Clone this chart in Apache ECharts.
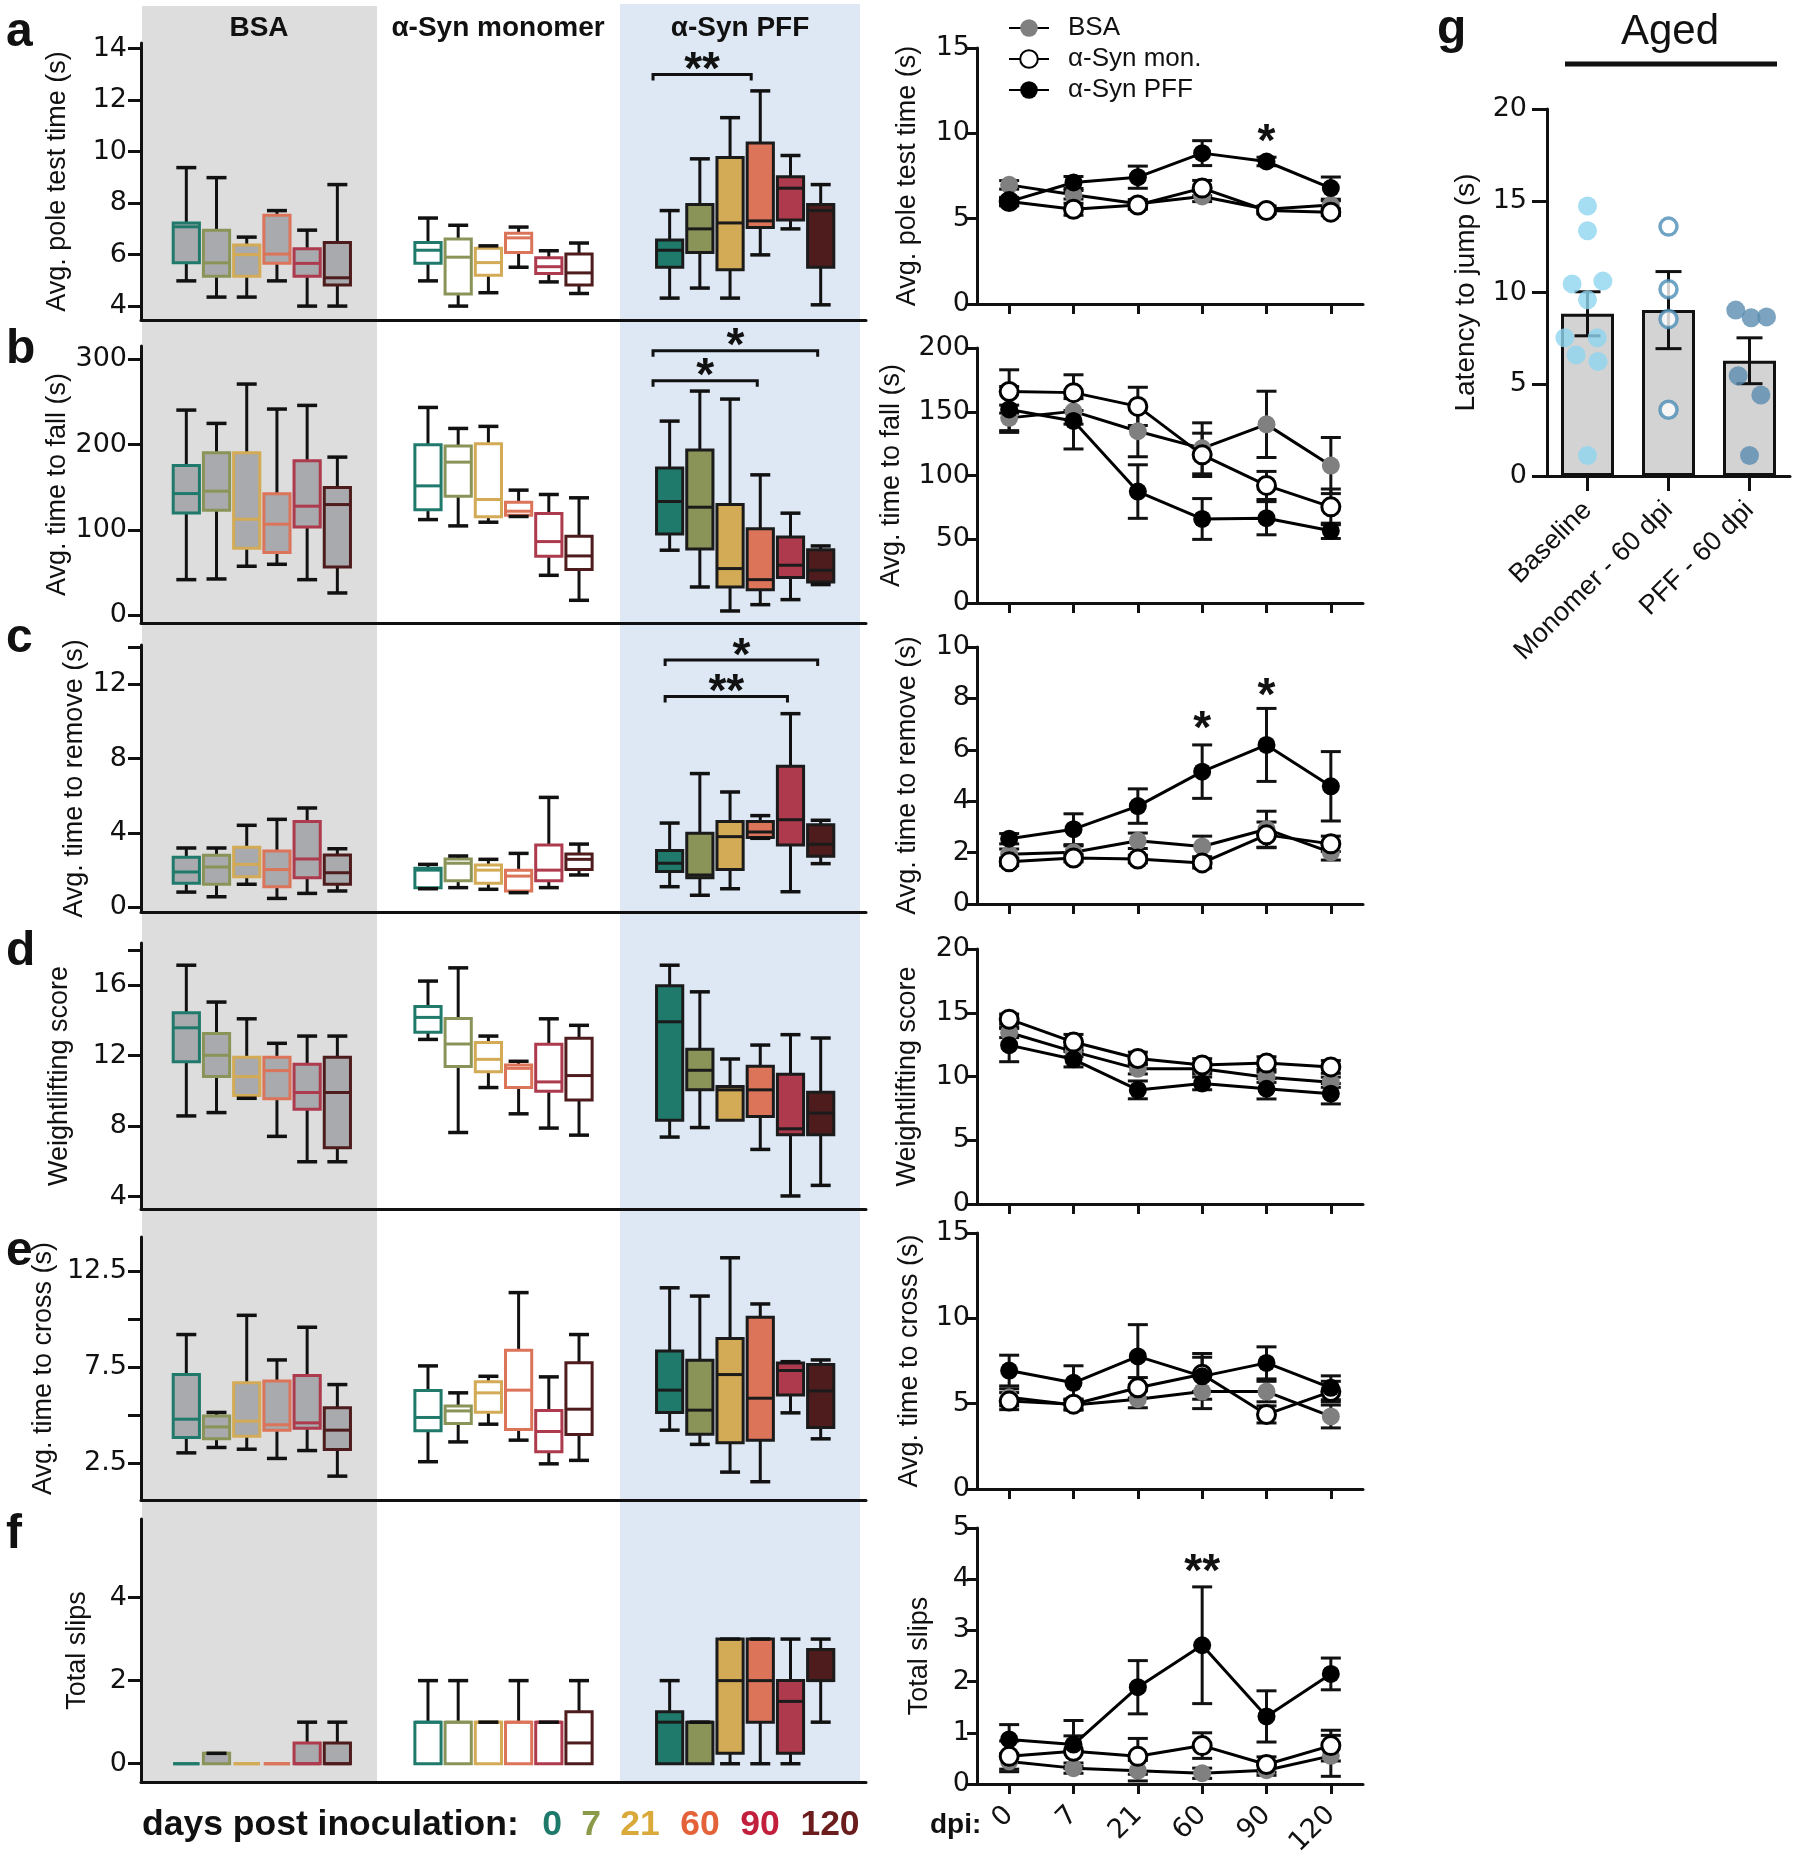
<!DOCTYPE html>
<html>
<head>
<meta charset="utf-8">
<script src="https://cdn.jsdelivr.net/npm/echarts@6/dist/echarts.min.js"></script>
<style>
  html, body { margin: 0; padding: 0; background: #fff; }
  #chart { width: 1800px; height: 1852px; }
</style>
</head>
<body>
<div id="chart"></div>
<script>
const FONT = '"Liberation Sans", Arial, Helvetica, sans-serif';
const NUM_FONT = '"DejaVu Sans", "Liberation Sans", sans-serif';

// ---- categories ----
const days = ['0', '7', '21', '60', '90', '120'];
const groupNames = ['BSA', 'α-Syn monomer', 'α-Syn PFF'];
const seriesNames = ['BSA', 'α-Syn mon.', 'α-Syn PFF'];
const agedGroups = ['Baseline', 'Monomer - 60 dpi', 'PFF - 60 dpi'];
const dayColors = ['#1f7a6c', '#8b9458', '#d3aa55', '#db7459', '#ad3a4d', '#4e1c1d'];
const dayTextColors = ['#1d7a6a', '#8a9a48', '#d9a93a', '#e4623a', '#c21f3c', '#6b1d1e'];

// ---- box plots: [min, q1, median, q3, max] per day ----
const poleBoxBSA = [[4.98,5.68,7.08,7.23,9.38],[4.35,5.16,5.68,6.95,8.99],[4.35,5.16,6.0,6.37,6.68],[4.98,5.66,6.02,7.53,7.71],[4.0,5.16,5.66,6.23,6.95],[4.0,4.82,5.10,6.47,8.72]];
const poleBoxMon = [[4.98,5.66,6.17,6.47,7.42],[4.0,4.47,5.9,6.61,7.14],[4.52,5.2,5.69,6.25,6.34],[5.51,6.08,6.65,6.83,7.07],[4.94,5.27,5.53,5.88,6.15],[4.49,4.82,5.29,6.02,6.45]];
const poleBoxPFF = [[4.31,5.51,6.17,6.57,7.71],[4.7,6.08,7.0,7.95,9.72],[4.31,5.41,7.23,9.77,11.32],[5.99,7.05,7.31,10.34,12.36],[7.0,7.34,8.58,9.02,9.85],[4.05,5.51,7.71,7.95,8.72]];

const fallBoxBSA = [[41.8,120,142.7,175.6,240.5],[42.6,123.2,145.5,190.5,224.9],[57.5,78.6,112.6,190.5,271],[59.8,73.5,106.8,142.4,241.7],[41.8,103.6,127.9,181,246],[26.2,56.7,129.8,149.8,185.4]];
const fallBoxMon = [[112.2,123.6,151.7,199.8,243.6],[104.8,139.6,179.5,198.3,219],[109.1,115.4,135.7,201,221.4],[115.8,117.3,122,132.6,146.7],[46.9,69.2,86.4,119.3,141.6],[17.6,53.6,69.6,92.7,137.7]];
const fallBoxPFF = [[76.3,95.4,133.4,172.5,227.6],[33.2,77.8,126.7,193.6,262.8],[5.1,33.2,54.8,129.8,253.4],[12.5,30.1,41.8,101.3,164.6],[18.4,44.2,58.7,91.9,119.7],[36,39.1,52.8,76.7,81.3]];

const removeBoxBSA = [[0.82,1.29,1.9,2.69,3.19],[0.57,1.24,2.17,2.8,3.19],[1.24,1.65,2.31,3.23,4.41],[0.48,1.11,2.03,3.03,4.73],[0.75,1.59,2.6,4.62,5.34],[0.88,1.24,1.86,2.81,3.15]];
const removeBoxMon = [[1.0,1.05,2.0,2.1,2.31],[1.06,1.43,2.37,2.6,2.76],[0.97,1.29,2.0,2.28,2.58],[0.79,0.88,1.68,2.0,2.9],[1.06,1.43,2.0,3.35,5.91],[1.74,2.04,2.58,2.87,3.4]];
const removeBoxPFF = [[1.11,1.92,2.37,3.05,4.53],[0.65,1.59,1.74,3.98,7.19],[1.0,2.04,3.8,4.62,6.2],[3.71,3.75,4.05,4.62,4.93],[0.84,3.35,4.71,7.58,10.41],[2.35,2.74,3.39,4.44,4.68]];

const weightBoxBSA = [[8.58,11.66,13.58,14.43,17.13],[8.77,10.81,12.02,13.26,15.04],[9.58,9.74,10.81,11.91,14.09],[7.42,9.55,11.15,11.91,12.7],[5.98,8.96,9.91,11.51,13.11],[5.98,6.77,9.91,11.91,13.11]];
const weightBoxMon = [[12.92,13.32,14.17,14.79,16.23],[7.64,11.38,12.66,14.11,16.98],[10.19,11.09,11.79,12.75,13.11],[8.7,10.19,11.28,11.47,11.68],[7.89,9.98,10.51,12.64,14.09],[7.49,9.49,10.87,12.98,13.72]];
const weightBoxPFF = [[7.38,8.34,13.92,15.96,17.13],[7.92,10.06,11.17,12.36,15.62],[8.34,8.34,10.06,10.25,11.81],[6.68,8.55,10.06,11.4,12.6],[4.04,7.51,7.85,10.94,13.19],[4.64,7.51,8.74,9.92,13.0]];

const crossBoxBSA = [[3.05,3.85,4.8,7.12,9.2],[3.33,3.78,4.4,4.96,5.15],[3.24,3.92,4.7,6.69,10.2],[2.76,4.23,4.51,6.79,7.88],[3.17,4.33,4.61,7.07,9.58],[1.84,3.23,4.23,5.39,6.6]];
const crossBoxMon = [[2.59,4.2,4.89,6.29,7.57],[3.62,4.58,5.23,5.48,6.17],[4.54,5.16,6.17,6.74,7.03],[3.71,4.26,6.31,8.38,11.38],[2.48,3.11,4.16,5.25,7.0],[2.66,4.0,5.32,7.74,9.2]];
const crossBoxPFF = [[4.23,5.15,6.31,8.35,11.63],[3.49,4.02,5.27,7.86,11.2],[2.05,3.57,7.12,8.99,13.19],[1.55,3.71,5.89,10.1,10.79],[5.13,6.06,7.33,7.72,7.79],[3.78,4.37,6.27,7.64,7.88]];

const slipBoxBSA = [[0,0,0,0,0],[0,0,0.25,0.25,0.25],[0,0,0,0,0],[0,0,0,0,0],[0,0,0,0.5,1],[0,0,0,0.5,1]];
const slipBoxMon = [[0,0,1,1,2],[0,0,1,1,2],[0,0,1,1,1],[0,0,1,1,2],[0,0,1,1,1],[0,0,0.5,1.25,2]];
const slipBoxPFF = [[0,0,1,1.25,2],[0,0,1,1,1],[0,0.25,2,3,3],[0,1,2,3,3],[0,0.25,1.5,2,3],[1,2,2,2.75,3]];

// significance brackets: [from slot, to slot, y, label]
const poleBrackets = [[16.45, 19.7, 13.0, '**']];
const fallBrackets = [[16.45, 21.9, 310, '*'], [16.45, 19.9, 275, '*']];
const removeBrackets = [[16.85, 21.9, 13.3, '*'], [16.85, 20.9, 11.33, '**']];

// ---- time courses: [mean, sem] per day ----
const poleLineBSA = [[6.98,0.25],[6.4,0.25],[5.87,0.25],[6.3,0.3],[5.55,0.2],[5.8,0.25]];
const poleLineMon = [[6.0,0.2],[5.55,0.35],[5.8,0.25],[6.79,0.45],[5.48,0.2],[5.38,0.2]];
const poleLinePFF = [[6.0,0.25],[7.12,0.35],[7.43,0.65],[8.84,0.73],[8.35,0.25],[6.79,0.65]];

const fallLineBSA = [[145.2,10],[150.3,10],[134.7,20],[121.3,20],[140.1,26],[107.8,22]];
const fallLineMon = [[165.9,17],[165,14],[154.2,15],[116.2,17],[92.2,11],[75.4,14]];
const fallLinePFF = [[151.8,18],[142.8,22],[87.4,21],[65.9,16],[66.5,13],[56.6,6]];

const removeLineBSA = [[1.94,0.2],[2.01,0.25],[2.46,0.3],[2.24,0.4],[2.91,0.7],[2.01,0.3]];
const removeLineMon = [[1.64,0.15],[1.79,0.15],[1.75,0.15],[1.6,0.2],[2.69,0.5],[2.34,0.3]];
const removeLinePFF = [[2.54,0.2],[2.91,0.6],[3.81,0.67],[5.15,1.04],[6.19,1.42],[4.58,1.35]];

const weightLineBSA = [[13.45,0.4],[11.95,0.4],[10.6,0.4],[10.6,0.4],[9.94,0.4],[9.55,0.4]];
const weightLineMon = [[14.5,0.4],[12.7,0.6],[11.41,0.5],[10.9,0.5],[11.05,0.5],[10.75,0.5]];
const weightLinePFF = [[12.46,1.3],[11.35,0.6],[8.95,0.7],[9.46,0.5],[9.04,0.8],[8.65,0.8]];

const crossLineBSA = [[5.37,0.5],[4.92,0.3],[5.26,0.5],[5.71,1.0],[5.71,0.6],[4.25,0.67]];
const crossLineMon = [[5.15,0.5],[4.97,0.3],[5.93,0.6],[6.72,1.0],[4.37,0.5],[5.71,0.6]];
const crossLinePFF = [[6.94,0.9],[6.22,1.0],[7.77,1.86],[6.6,1.34],[7.39,0.94],[5.93,0.7]];

const slipLineBSA = [[0.44,0.15],[0.31,0.1],[0.26,0.2],[0.21,0.1],[0.27,0.1],[0.55,0.4]];
const slipLineMon = [[0.54,0.3],[0.64,0.3],[0.54,0.35],[0.75,0.25],[0.38,0.15],[0.75,0.3]];
const slipLinePFF = [[0.87,0.29],[0.77,0.47],[1.89,0.52],[2.71,1.14],[1.32,0.5],[2.15,0.31]];

// stars over time courses: [day index, y, label]
const poleStars = [[4, 10.0, '*']];
const removeStars = [[3, 7.16, '*'], [4, 8.43, '*']];
const slipStars = [[3, 4.32, '**']];

// ---- tick labels of box plot axes ----
const poleTicks = [4, 6, 8, 10, 12, 14];
const fallTicks = [0, 100, 200, 300];
const removeTicks = [0, 4, 8, 12, 14], removeLabels = [0, 4, 8, 12];
const weightTicks = [4, 8, 12, 16, 18], weightLabels = [4, 8, 12, 16];
const crossTicks = [2.5, 5, 7.5, 10, 12.5], crossLabels = [2.5, 7.5, 12.5];
const slipTicks = [0, 2, 4];

// ---- panel g: aged mice ----
const agedMean = [8.84, 9.04, 6.28];
const agedSem = [1.2, 2.1, 1.25];
// [horizontal jitter, value]
const agedBaselinePts = [[0,14.71],[0,13.37],[-0.19,10.47],[0.19,10.62],[0,9.6],[-0.28,7.53],[0.12,7.53],[-0.14,6.6],[0.13,6.24],[0,1.12]];
const agedMonomerPts = [[0,13.59],[0,10.18],[0,8.55],[0,3.61]];
const agedPffPts = [[-0.17,9.04],[0.02,8.62],[0.21,8.67],[-0.14,5.46],[0.14,4.41],[0,1.12]];

// 24 slots on the box axis: blank, 6 BSA, 2 blank, 6 monomer, 2 blank, 6 PFF, blank
const slots = Array.from({ length: 24 }, (_, i) => 's' + i);

const panels = [
  { letter: 'a', letterY: 33, name: 'Avg. pole test time (s)',
    boxes: [poleBoxBSA, poleBoxMon, poleBoxPFF], brackets: poleBrackets,
    boxTop: 43, boxBottom: 320, boxMin: 3.46, boxMax: 14.22, ticks: poleTicks, labels: poleTicks, boxGap: 70,
    lines: [poleLineBSA, poleLineMon, poleLinePFF], stars: poleStars,
    lineTop: 48, lineBottom: 304, lineMax: 15, lineStep: 5, lineGap: 56 },
  { letter: 'b', letterY: 350, name: 'Avg. time to fall (s)',
    boxes: [fallBoxBSA, fallBoxMon, fallBoxPFF], brackets: fallBrackets,
    boxTop: 346, boxBottom: 623, boxMin: -9, boxMax: 315.6, ticks: fallTicks, labels: fallTicks, boxGap: 70,
    lines: [fallLineBSA, fallLineMon, fallLinePFF], stars: [],
    lineTop: 348, lineBottom: 603, lineMax: 200, lineStep: 50, lineGap: 72 },
  { letter: 'c', letterY: 639, name: 'Avg. time to remove (s)',
    boxes: [removeBoxBSA, removeBoxMon, removeBoxPFF], brackets: removeBrackets,
    boxTop: 645, boxBottom: 912, boxMin: -0.25, boxMax: 14.1, ticks: removeTicks, labels: removeLabels, boxGap: 53,
    lines: [removeLineBSA, removeLineMon, removeLinePFF], stars: removeStars,
    lineTop: 647, lineBottom: 904, lineMax: 10, lineStep: 2, lineGap: 56 },
  { letter: 'd', letterY: 952, name: 'Weightlifting score',
    boxes: [weightBoxBSA, weightBoxMon, weightBoxPFF], brackets: [],
    boxTop: 943, boxBottom: 1209, boxMin: 3.3, boxMax: 18.39, ticks: weightTicks, labels: weightLabels, boxGap: 68,
    lines: [weightLineBSA, weightLineMon, weightLinePFF], stars: [],
    lineTop: 949, lineBottom: 1204, lineMax: 20, lineStep: 5, lineGap: 56 },
  { letter: 'e', letterY: 1252, name: 'Avg. time to cross (s)',
    boxes: [crossBoxBSA, crossBoxMon, crossBoxPFF], brackets: [],
    boxTop: 1237, boxBottom: 1500, boxMin: 0.6, boxMax: 14.27, ticks: crossTicks, labels: crossLabels, boxGap: 84,
    lines: [crossLineBSA, crossLineMon, crossLinePFF], stars: [],
    lineTop: 1233, lineBottom: 1489, lineMax: 15, lineStep: 5, lineGap: 54 },
  { letter: 'f', letterY: 1535, name: 'Total slips',
    boxes: [slipBoxBSA, slipBoxMon, slipBoxPFF], brackets: [],
    boxTop: 1519, boxBottom: 1782, boxMin: -0.44, boxMax: 5.89, ticks: slipTicks, labels: slipTicks, boxGap: 50,
    lines: [slipLineBSA, slipLineMon, slipLinePFF], stars: slipStars,
    lineTop: 1528, lineBottom: 1784, lineMax: 5, lineStep: 1, lineGap: 44 }
];

const INK = '#111';
const axisLine = { show: true, onZero: false, lineStyle: { color: INK, width: 3 } };
const nameStyle = { fontSize: 27, color: INK, fontFamily: FONT };
const tickLabel = { fontSize: 27, color: INK, fontFamily: NUM_FONT };

function seg(x1, y1, x2, y2, color, w) {
  return { type: 'line', shape: { x1, y1, x2, y2 }, style: { stroke: color, lineWidth: w } };
}

function renderBox(params, api) {
  const slot = api.value(0), day = api.value(6), g = api.value(7);
  const v = [1, 2, 3, 4, 5].map(k => api.value(k));
  const p = v.map(val => api.coord([slot, val]));
  const x = p[0][0], band = api.size([1, 0])[0];
  const w = band - 4, cap = 10;
  const col = dayColors[day];
  const fill = g === 0 ? '#a9aaad' : g === 1 ? '#ffffff' : col;
  const edge = g === 2 ? '#1b1b1b' : col;
  const kids = [];
  if (v[4] > v[3]) kids.push(seg(x, p[4][1], x, p[3][1], INK, 3));
  if (v[0] < v[1]) kids.push(seg(x, p[1][1], x, p[0][1], INK, 3));
  kids.push({ type: 'rect', shape: { x: x - w / 2, y: p[3][1], width: w, height: p[1][1] - p[3][1] },
    style: { fill, stroke: edge, lineWidth: 3 } });
  kids.push(seg(x - w / 2, p[2][1], x + w / 2, p[2][1], edge, 3));
  if (v[4] > v[0]) kids.push(seg(x - cap, p[4][1], x + cap, p[4][1], INK, 3.5));
  if (v[0] < v[1]) kids.push(seg(x - cap, p[0][1], x + cap, p[0][1], INK, 3.5));
  return { type: 'group', children: kids };
}

function bracketRenderer(list) {
  return function (params, api) {
    const b = list[params.dataIndex];
    const band = api.size([1, 0])[0];
    const at = s => { const k = Math.round(s); const pt = api.coord([k, b[2]]); return [pt[0] + (s - k) * band, pt[1]]; };
    const p1 = at(b[0]), p2 = at(b[1]);
    return { type: 'group', children: [
      { type: 'polyline', shape: { points: [[p1[0], p1[1] + 6], [p1[0], p1[1]], [p2[0], p2[1]], [p2[0], p2[1] + 6]] },
        style: { stroke: INK, lineWidth: 3, fill: 'none' } },
      { type: 'text', x: (p1[0] + p2[0]) / 2, y: p1[1] - 3,
        style: { text: b[3], fontSize: 46, fontWeight: 'bold', fontFamily: FONT, fill: INK, align: 'center', verticalAlign: 'middle' } }
    ] };
  };
}

function starRenderer(list) {
  return function (params, api) {
    const s = list[params.dataIndex];
    const pt = api.coord([s[0], s[1]]);
    return { type: 'text', x: pt[0], y: pt[1] + 10,
      style: { text: s[2], fontSize: 46, fontWeight: 'bold', fontFamily: FONT, fill: INK, align: 'center', verticalAlign: 'middle' } };
  };
}

function errRenderer(half) {
  return function (params, api) {
    const i = api.value(0), m = api.value(1), s = api.value(2);
    const hi = api.coord([i, m + s]), lo = api.coord([i, m - s]);
    return { type: 'group', children: [
      seg(hi[0], hi[1], lo[0], lo[1], INK, 3),
      seg(hi[0] - half, hi[1], hi[0] + half, hi[1], INK, 3),
      seg(lo[0] - half, lo[1], lo[0] + half, lo[1], INK, 3)
    ] };
  };
}

const markerStyles = [
  { color: '#808080', borderColor: '#808080', borderWidth: 0 },
  { color: '#ffffff', borderColor: '#000000', borderWidth: 3 },
  { color: '#000000', borderColor: '#000000', borderWidth: 0 }
];

const grid = [], xAxis = [], yAxis = [], series = [];

panels.forEach(p => {
  // box plots (left column)
  let xi = xAxis.length, yi = yAxis.length;
  grid.push({ left: 141, width: 725, top: p.boxTop, height: p.boxBottom - p.boxTop, outerBoundsMode: 'none' });
  xAxis.push({ gridIndex: grid.length - 1, type: 'category', data: slots, boundaryGap: true, axisLine,
    axisTick: { show: false }, axisLabel: { show: false }, splitLine: { show: false } });
  yAxis.push({ gridIndex: grid.length - 1, type: 'value', min: p.boxMin, max: p.boxMax,
    name: p.name, nameLocation: 'middle', nameGap: p.boxGap, nameMoveOverlap: false, nameTextStyle: nameStyle,
    axisLine, splitLine: { show: false },
    axisTick: { show: true, length: 13, lineStyle: { color: INK, width: 3 }, customValues: p.ticks },
    axisLabel: Object.assign({ show: true, customValues: p.labels, margin: 14 }, tickLabel) });
  const boxData = [];
  p.boxes.forEach((grp, g) => grp.forEach((b, d) => boxData.push([1 + g * 8 + d, b[0], b[1], b[2], b[3], b[4], d, g])));
  series.push({ type: 'custom', xAxisIndex: xi, yAxisIndex: yi, data: boxData, encode: { x: 0, y: [1, 5] },
    renderItem: renderBox, clip: false, silent: true, z: 3 });
  if (p.brackets.length) {
    series.push({ type: 'custom', xAxisIndex: xi, yAxisIndex: yi, data: p.brackets.map(b => [Math.round(b[0]), b[2]]),
      renderItem: bracketRenderer(p.brackets), clip: false, silent: true, z: 4 });
  }

  // time courses (middle column)
  xi = xAxis.length; yi = yAxis.length;
  grid.push({ left: 977, width: 386, top: p.lineTop, height: p.lineBottom - p.lineTop, outerBoundsMode: 'none' });
  xAxis.push({ gridIndex: grid.length - 1, type: 'category', data: days, boundaryGap: true, axisLine,
    axisTick: { show: true, alignWithLabel: true, length: 10, lineStyle: { color: INK, width: 3 } },
    axisLabel: p.letter === 'f'
      ? Object.assign({ show: true, rotate: 45, margin: 27 }, tickLabel)
      : { show: false },
    splitLine: { show: false } });
  yAxis.push({ gridIndex: grid.length - 1, type: 'value', min: 0, max: p.lineMax, interval: p.lineStep,
    name: p.name, nameLocation: 'middle', nameGap: p.lineGap, nameMoveOverlap: false, nameTextStyle: nameStyle,
    axisLine, splitLine: { show: false },
    axisTick: { show: true, length: 10, lineStyle: { color: INK, width: 3 } },
    axisLabel: Object.assign({ margin: 7 }, tickLabel) });
  p.lines.forEach((vals, g) => {
    series.push({ type: 'custom', xAxisIndex: xi, yAxisIndex: yi, data: vals.map((v, i) => [i, v[0], v[1]]),
      renderItem: errRenderer(10), silent: true, z: 2 });
  });
  p.lines.forEach((vals, g) => {
    series.push({ type: 'line', name: seriesNames[g], xAxisIndex: xi, yAxisIndex: yi,
      data: vals.map(v => v[0]), symbol: 'circle', symbolSize: 18, showAllSymbol: true,
      lineStyle: { color: '#000', width: 3 }, itemStyle: markerStyles[g], silent: true, z: 3 + g });
  });
  if (p.stars.length) {
    series.push({ type: 'custom', xAxisIndex: xi, yAxisIndex: yi, data: p.stars.map(s => [s[0], s[1]]),
      renderItem: starRenderer(p.stars), clip: false, silent: true, z: 6 });
  }
});

// panel g
const gx = xAxis.length, gy = yAxis.length;
grid.push({ left: 1547, width: 243, top: 109, height: 367, outerBoundsMode: 'none' });
const gGrid = grid.length - 1;
xAxis.push({ gridIndex: gGrid, type: 'category', data: agedGroups, boundaryGap: true, axisLine,
  axisTick: { show: true, alignWithLabel: true, length: 15, lineStyle: { color: INK, width: 3 } },
  axisLabel: { rotate: 45, margin: 30, fontSize: 27, color: INK, fontFamily: FONT } });
xAxis.push({ gridIndex: gGrid, type: 'value', min: -0.5, max: 2.5, show: false });
yAxis.push({ gridIndex: gGrid, type: 'value', min: 0, max: 20, interval: 5,
  name: 'Latency to jump (s)', nameLocation: 'middle', nameGap: 67, nameMoveOverlap: false,
  nameTextStyle: { fontSize: 28, color: INK, fontFamily: FONT },
  axisLine, splitLine: { show: false },
  axisTick: { show: true, length: 15, lineStyle: { color: INK, width: 3 } },
  axisLabel: Object.assign({ margin: 20 }, tickLabel) });
series.push({ type: 'bar', xAxisIndex: gx, yAxisIndex: gy, data: agedMean, barWidth: 53, silent: true, z: 2,
  itemStyle: { color: '#d3d3d3', borderColor: INK, borderWidth: 3 } });
series.push({ type: 'custom', xAxisIndex: gx, yAxisIndex: gy, data: agedMean.map((m, i) => [i, m, agedSem[i]]),
  renderItem: errRenderer(13), silent: true, z: 3 });
const agedPts = [agedBaselinePts, agedMonomerPts, agedPffPts];
const agedDotStyles = [
  { color: '#8fd4f0', borderWidth: 0 },
  { color: '#ffffff', borderColor: '#4b8db5', borderWidth: 3.5 },
  { color: '#5b8db0', borderWidth: 0 }
];
agedPts.forEach((pts, i) => {
  series.push({ type: 'scatter', xAxisIndex: gx + 1, yAxisIndex: gy, data: pts.map(([o, v]) => [i + o, v]),
    symbolSize: i === 1 ? 17 : 19, itemStyle: agedDotStyles[i], silent: true, z: 4 });
});

// decoration: background bands, panel letters, headers, colour key
const txt = (text, x, y, size, opts) => Object.assign({ type: 'text', x, y, silent: true,
  style: Object.assign({ text, fontSize: size, fontFamily: FONT, fill: INK, align: 'left', verticalAlign: 'middle' }, opts || {}) });
const graphics = [
  { type: 'rect', shape: { x: 142, y: 6, width: 235, height: 1775 }, style: { fill: '#dddddd' }, z: -10, silent: true },
  { type: 'rect', shape: { x: 620, y: 4, width: 240, height: 1777 }, style: { fill: '#dde8f4' }, z: -10, silent: true }
];
panels.forEach(p => graphics.push(txt(p.letter, 6, p.letterY, 48, { fontWeight: 'bold' })));
graphics.push(txt('g', 1437, 30, 48, { fontWeight: 'bold' }));
const headerX = [259, 498, 740];
groupNames.forEach((n, i) => graphics.push(txt(n, headerX[i], 28, 28, { fontWeight: 'bold', align: 'center' })));
graphics.push(txt('days post inoculation:', 142, 1825, 35.5, { fontWeight: 'bold' }));
const keyX = [552, 591, 640, 700, 760, 830];
days.forEach((d, i) => graphics.push(txt(d, keyX[i], 1825, 35.5, { fontWeight: 'bold', align: 'center', fill: dayTextColors[i] })));
graphics.push(txt('dpi:', 930, 1825, 28, { fontWeight: 'bold' }));
graphics.push(txt('Aged', 1670, 32, 42, { align: 'center' }));
graphics.push({ type: 'line', shape: { x1: 1565, y1: 64, x2: 1777, y2: 64 }, style: { stroke: INK, lineWidth: 5 }, silent: true });

const chart = echarts.init(document.getElementById('chart'), null, { renderer: 'canvas' });
chart.setOption({
  animation: false,
  backgroundColor: '#ffffff',
  textStyle: { fontFamily: FONT },
  legend: {
    data: seriesNames, orient: 'vertical', left: 1003, top: 10,
    itemWidth: 40, itemHeight: 22, itemGap: 5, selectedMode: false,
    textStyle: { fontSize: 26, color: INK, fontFamily: FONT, padding: [0, 0, 0, 14] }
  },
  grid, xAxis, yAxis, series,
  graphic: { elements: graphics }
});
</script>
</body>
</html>
